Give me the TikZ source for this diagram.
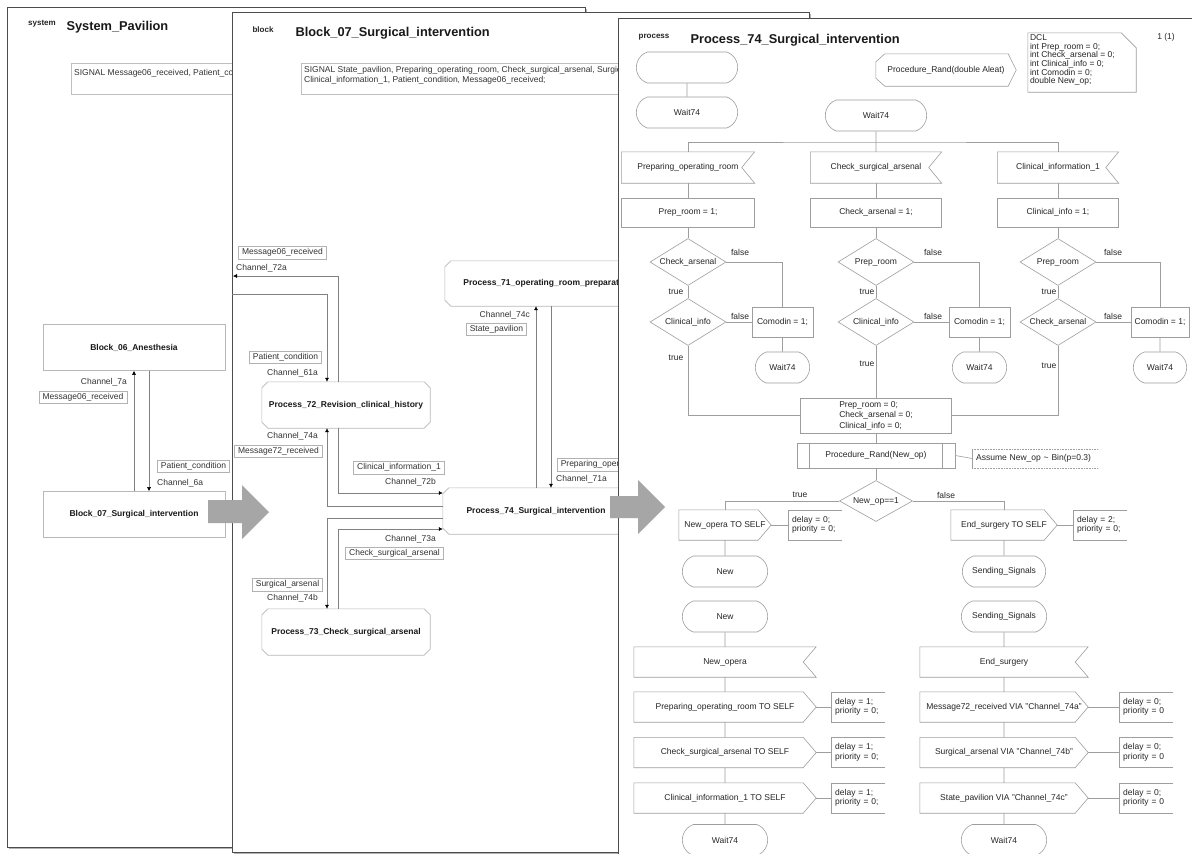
\documentclass[tikz,border=0pt]{standalone}
\usepackage{fontspec}
\setmainfont{Liberation Sans}
\usetikzlibrary{arrows.meta,calc,positioning,shapes.geometric,shapes.misc}

\begin{document}
\begin{tikzpicture}[x=1pt,y=-1pt,font=\fontsize{8.5}{9.5}\selectfont,>={Latex[length=4pt,width=4pt,color=black]},
  page/.style={draw=black!70,fill=white,line width=0.8pt},
  shade/.style={fill=black!30},
  kw/.style={font=\fontsize{8}{9}\selectfont\bfseries,text=black!85},
  ttl/.style={font=\fontsize{12.8}{14}\selectfont\bfseries,anchor=west,text=black!90},
  sig/.style={draw=black!25,line width=0.6pt,anchor=north west,minimum height=31pt},
  sigtxt/.style={anchor=north west,align=left,inner sep=0pt,text=black!80,font=\fontsize{8.5}{10}\selectfont},
  blk/.style={draw=black!28,line width=0.6pt,minimum width=182pt,minimum height=46pt,font=\fontsize{8.5}{10}\selectfont\bfseries,text=black!90},
  prc/.style={minimum width=168pt,minimum height=46pt,font=\fontsize{8.5}{10}\selectfont\bfseries,text=black!90},
  prcline/.style={draw=black!28,line width=0.6pt},
  chan/.style={draw=black!50,line width=0.5pt},
  lbl/.style={draw=black!30,line width=0.5pt,inner xsep=3.5pt,inner ysep=0pt,minimum height=12.5pt,text=black!80},
  chn/.style={inner sep=0pt,text=black!80},
  flow/.style={draw=black!38,line width=0.6pt},
  fc/.style={flow,text=black!85},
  state/.style={fc,rounded rectangle,rounded rectangle arc length=140,minimum height=31pt},
  task/.style={fc,rectangle,minimum height=29pt},
  test/.style={fc,diamond,inner sep=0pt,shape aspect=1.6,minimum width=76pt,minimum height=47pt},
  sym/.style={text=black!85,minimum height=30pt,inner sep=0pt},
  note/.style={anchor=west,minimum height=30pt,inner xsep=4pt,text width=46pt,align=left,text=black!85},
  tf/.style={inner sep=0pt,text=black!85}]
\useasboundingbox (0,0) rectangle (1192,854);
\clip (0,0) rectangle (1192,854);

% system page
\fill[shade] (9,9) rectangle (587,849);
\draw[page] (7,7) rectangle (585,847);
\node[kw] (sysKw) at (42,24) {system};
\node[ttl] (sysTtl) at (63,27) {System\_Pavilion};
\node[sig,minimum width=240pt] (sysSig) at (71,63) {};
\node[sigtxt] (sysSigTxt) at (74,69) {SIGNAL Message06\_received, Patient\_condition;};
\node[blk] (blk06) at (134,347.5) {Block\_06\_Anesthesia};
\node[blk] (blk07) at (134,514.5) {Block\_07\_Surgical\_intervention};
\draw[chan,->] (blk07.north) -- (blk06.south);
\draw[chan,->] ([xshift=15]blk06.south) -- ([xshift=15]blk07.north);
\node[chn,anchor=east] (ch7a) at (127,382) {Channel\_7a};
\node[lbl] (lb7a) at (83,397) {Message06\_received};
\node[lbl] (lb6a) at (193.5,466) {Patient\_condition};
\node[chn,anchor=west] (ch6a) at (157,483) {Channel\_6a};

% block page
\fill[shade] (234,14) rectangle (811,854);
\draw[page] (232,12) rectangle (809,852);
\node[kw] (blkKw) at (263,30) {block};
\node[ttl] (blkTtl) at (292,33) {Block\_07\_Surgical\_intervention};
\node[sig,minimum width=340pt] (blkSig) at (301,63) {};
\node[sigtxt] (blkSigTxt) at (304,66.5) {SIGNAL State\_pavilion, Preparing\_operating\_room, Check\_surgical\_arsenal, Surgical\_arsenal,\\Clinical\_information\_1, Patient\_condition, Message06\_received;};
\node[prc] (p72) at (346,405) {Process\_72\_Revision\_clinical\_history};
\node[prc] (p73) at (346,632) {Process\_73\_Check\_surgical\_arsenal};
\node[prc,minimum width=186pt] (p74) at (536,511) {Process\_74\_Surgical\_intervention};
\node[prc,minimum width=205pt,minimum height=45pt] (p71) at (547.5,283.5) {Process\_71\_operating\_room\_preparation};
\foreach \n in {p71,p72,p73,p74}
  \draw[prcline] ([xshift=6]\n.north west) -- ([xshift=-6]\n.north east) -- ([shift={(0,6)}]\n.north east) -- ([shift={(0,-6)}]\n.south east) -- ([xshift=-6]\n.south east) -- ([xshift=6]\n.south west) -- ([shift={(0,-6)}]\n.south west) -- ([shift={(0,6)}]\n.north west) -- cycle;
\coordinate (env61) at (232,294);
\coordinate (env72) at (233,276);
\draw[chan,->] (env61) -| ([xshift=-19]p72.north);
\draw[chan,->] ([xshift=-8]p72.north) |- (env72);
\draw[chan,->] ([xshift=-8]p72.south) |- ([yshift=18]p74.west);
\draw[chan,->] ([yshift=5]p74.west) -| ([xshift=-19]p72.south);
\draw[chan,->] ([yshift=-7]p74.west) -| ([xshift=-19]p73.north);
\draw[chan,->] ([xshift=-8]p73.north) |- ([yshift=-18]p74.west);
\draw[chan,->] (p74.north) -- (p74.north |- p71.south);
\draw[chan,->] ($(p74.north |- p71.south)+(15,0)$) -- ([xshift=15]p74.north);
\node[lbl] (lb72a) at (282.5,252.5) {Message06\_received};
\node[chn,anchor=west] (ch72a) at (236,268) {Channel\_72a};
\node[lbl] (lb61a) at (285.5,357) {Patient\_condition};
\node[chn,anchor=east] (ch61a) at (318,373) {Channel\_61a};
\node[chn,anchor=east] (ch74a) at (318,436) {Channel\_74a};
\node[lbl] (lb74a) at (278.5,451) {Message72\_received};
\node[lbl] (lb72b) at (399,467.5) {Clinical\_information\_1};
\node[chn,anchor=east] (ch72b) at (436,482) {Channel\_72b};
\node[chn,anchor=east] (ch74c) at (530,315) {Channel\_74c};
\node[lbl] (lb74c) at (496.5,329) {State\_pavilion};
\node[lbl,anchor=west] (lb71a) at (557,464.5) {Preparing\_operating\_room};
\node[chn,anchor=west] (ch71a) at (556,479) {Channel\_71a};
\node[chn,anchor=east] (ch73a) at (436,539) {Channel\_73a};
\node[lbl] (lb73a) at (394.5,553) {Check\_surgical\_arsenal};
\node[lbl] (lb74b) at (287.5,584.5) {Surgical\_arsenal};
\node[chn,anchor=east] (ch74b) at (318,598) {Channel\_74b};
\fill[black!35] (208,500) -- (242,500) -- (242,485) -- (269,512) -- (242,539) -- (242,523) -- (208,523) -- cycle;

% process page
\fill[shade] (620,20) rectangle (1212,874);
\draw[page] (618,18) rectangle (1210,872);
\fill[black!35] (610,496) -- (638,496) -- (638,480) -- (665,507) -- (638,534) -- (638,518) -- (610,518) -- cycle;
\node[kw] (prcKw) at (654,37) {process};
\node[ttl] (prcTtl) at (687,40) {Process\_74\_Surgical\_intervention};
\node[tf] (pgNo) at (1166,37) {1 (1)};
\node[minimum width=108pt,minimum height=59pt,inner sep=0pt] (dcl) at (1082,62.5) {};
\draw[flow] (dcl.north west) -- ([xshift=-15]dcl.north east) -- ([shift={(0,15)}]dcl.north east) -- (dcl.south east) -- (dcl.south west) -- cycle;
\node[anchor=north west,align=left,inner sep=0pt,text=black!85,font=\fontsize{8.5}{8.7}\selectfont] (dclTxt) at ([shift={(2,1.5)}]dcl.north west) {DCL\\int Prep\_room = 0;\\int Check\_arsenal = 0;\\int Clinical\_info = 0;\\int Comodin = 0;\\double New\_op;};
\node[sym,minimum width=140pt,minimum height=32pt] (pref) at (946,70) {Procedure\_Rand(double Aleat)};
\draw[flow] ([xshift=9]pref.north west) -- ([xshift=-8]pref.north east) -- (pref.east) -- ([xshift=-8]pref.south east) -- ([xshift=9]pref.south west) -- ([shift={(0,-8)}]pref.south west) -- ([shift={(0,8)}]pref.north west) -- cycle;

\node[state,minimum width=108pt] (start) at (687,67.5) {};
\node[state,minimum width=108pt] (wait0) at (687,112.5) {Wait74};
\draw[flow] (start) -- (wait0);
\node[state,minimum width=108pt] (wait1) at (876,115.5) {Wait74};
\node[sym,minimum width=133pt,minimum height=31pt] (in1) at (688,167.5) {Preparing\_operating\_room};
\node[sym,minimum width=131pt,minimum height=31pt] (in2) at (876,167.5) {Check\_surgical\_arsenal};
\node[sym,minimum width=121pt,minimum height=31pt] (in3) at (1058,167.5) {Clinical\_information\_1};
\coordinate (bar) at (876,142);
\draw[flow] (wait1) -- (in2);
\draw[flow] (in1.north) |- (bar) -| (in3.north);
\node[task,minimum width=133pt] (t1) at (688,212.5) {Prep\_room = 1;};
\node[task,minimum width=131pt] (t2) at (876,212.5) {Check\_arsenal = 1;};
\node[task,minimum width=121pt] (t3) at (1058,212.5) {Clinical\_info = 1;};
\node[test] (d11) at (688,262) {Check\_arsenal};
\node[test] (d12) at (688,322) {Clinical\_info};
\node[test] (d21) at (876,262) {Prep\_room};
\node[test] (d22) at (876,322) {Clinical\_info};
\node[test] (d31) at (1058,262) {Prep\_room};
\node[test] (d32) at (1058,322) {Check\_arsenal};
\node[task,minimum width=61pt,minimum height=30pt] (cmd1) at (782.5,322) {Comodin = 1;};
\node[task,minimum width=61pt,minimum height=30pt] (cmd2) at (979.5,322) {Comodin = 1;};
\node[task,minimum width=58pt,minimum height=30pt] (cmd3) at (1160,322) {Comodin = 1;};
\node[state,minimum width=61pt] (ws1) at (782.5,367.5) {Wait74};
\node[state,minimum width=61pt] (ws2) at (979.5,367.5) {Wait74};
\node[state,minimum width=60pt] (ws3) at (1160,367.5) {Wait74};
\foreach \i in {1,2,3} {
  \draw[flow] (in\i) -- (t\i);
  \draw[flow] (t\i) -- (d\i1);
  \draw[flow] (d\i1) -- (d\i2);
  \draw[flow] (d\i1.east) -| (cmd\i.north);
  \draw[flow] (d\i2.east) -- (cmd\i.west);
  \draw[flow] (cmd\i) -- (ws\i);
}
\foreach \x/\i in {740/1,933/2,1113/3} {
  \node[tf] (fa\i) at (\x,252) {false};
  \node[tf] (fb\i) at (\x,316) {false};
}
\foreach \x/\y/\i in {676/358/1,867/364/2,1049/366/3} {
  \node[tf] (ta\i) at (\x,292) {true};
  \node[tf] (tb\i) at (\x,\y) {true};
}
\node[task,minimum width=151pt,minimum height=35pt,align=left,font=\fontsize{8.5}{10.5}\selectfont] (mrg) at (876,415.5) {Prep\_room = 0;\\Check\_arsenal = 0;\\Clinical\_info = 0;};
\draw[flow] (d12.south) |- (mrg.west);
\draw[flow] (d22) -- (mrg);
\draw[flow] (d32.south) |- (mrg.east);
\node[task,minimum width=158pt,minimum height=25pt] (pcall) at (876,455.5) {Procedure\_Rand(New\_op)};
\draw[flow] ([xshift=13]pcall.north west) -- ([xshift=13]pcall.south west) ([xshift=-13]pcall.north east) -- ([xshift=-13]pcall.south east);
\draw[flow] (mrg) -- (pcall);
\node[anchor=west,minimum height=19pt,inner xsep=4pt,text width=118pt,align=left,text=black!85] (asm) at (972,458.5) {Assume New\_op \textasciitilde{} Bin(p=0.3)};
\draw[flow] (asm.north west) -- (asm.south west);
\draw[flow,densely dotted] (asm.north west) -- (asm.north east) (asm.south west) -- (asm.south east);
\draw[flow] (pcall.east) -- (asm.west);
\node[test,minimum width=73pt,minimum height=41pt] (dn) at (876,501) {New\_op==1};
\draw[flow] (pcall) -- (dn);
\node[sym,minimum width=92pt] (o1) at (725,525) {New\_opera TO SELF};
\node[sym,minimum width=106pt] (o2) at (1004,525) {End\_surgery TO SELF};
\draw[flow] (dn.west) -| (o1.north);
\draw[flow] (dn.east) -| (o2.north);
\node[tf] (tTrue) at (800,495) {true};
\node[tf] (tFalse) at (946,495) {false};
\node[note] (nt1) at (788,525) {delay = 0;\\priority = 0;};
\node[note] (nt2) at (1073,525) {delay = 2;\\priority = 0;};
\node[state,minimum width=92pt] (s1) at (725,571.5) {New};
\node[state,minimum width=90pt] (s2) at (1004,571.5) {Sending\_Signals};
\node[state,minimum width=92pt] (s3) at (725,616.5) {New};
\node[state,minimum width=92pt] (s4) at (1004,616.5) {Sending\_Signals};
\node[sym,minimum width=182pt] (in4) at (725,662) {New\_opera};
\node[sym,minimum width=168pt] (in5) at (1004,662) {End\_surgery};
\node[sym,minimum width=182pt] (o3) at (725,707) {Preparing\_operating\_room TO SELF};
\node[sym,minimum width=182pt] (o4) at (725,752.5) {Check\_surgical\_arsenal TO SELF};
\node[sym,minimum width=182pt] (o5) at (725,798) {Clinical\_information\_1 TO SELF};
\node[sym,minimum width=168pt] (o6) at (1004,707) {Message72\_received VIA "Channel\_74a"};
\node[sym,minimum width=168pt] (o7) at (1004,752.5) {Surgical\_arsenal VIA "Channel\_74b"};
\node[sym,minimum width=168pt] (o8) at (1004,798) {State\_pavilion VIA "Channel\_74c"};
\node[note] (nt3) at (831,707) {delay = 1;\\priority = 0;};
\node[note] (nt4) at (831,752.5) {delay = 1;\\priority = 0;};
\node[note] (nt5) at (831,798) {delay = 1;\\priority = 0;};
\node[note] (nt6) at (1119,707) {delay = 0;\\priority = 0};
\node[note] (nt7) at (1119,752.5) {delay = 0;\\priority = 0};
\node[note] (nt8) at (1119,798) {delay = 0;\\priority = 0};
\node[state,minimum width=92pt] (w3) at (725,840) {Wait74};
\node[state,minimum width=92pt] (w4) at (1004,840) {Wait74};
\draw[flow] (o1) -- (s1);
\draw[flow] (o2) -- (s2);
\draw[flow] (s3) -- (in4) -- (o3) -- (o4) -- (o5) -- (w3);
\draw[flow] (s4) -- (in5) -- (o6) -- (o7) -- (o8) -- (w4);
\foreach \i in {1,...,5}
  \draw[flow] (in\i.north west) -- (in\i.north east) -- ([xshift=-13]in\i.east) -- (in\i.south east) -- (in\i.south west) -- cycle;
\foreach \i in {1,...,8} {
  \draw[flow] (o\i.north west) -- ([xshift=-13]o\i.north east) -- (o\i.east) -- ([xshift=-13]o\i.south east) -- (o\i.south west) -- cycle;
  \draw[flow] (nt\i.north east) -- (nt\i.north west) -- (nt\i.south west) -- (nt\i.south east);
}
\foreach \i in {1,...,8}
  \draw[flow] (o\i.east) -- (nt\i.west);
\end{tikzpicture}
\end{document}
